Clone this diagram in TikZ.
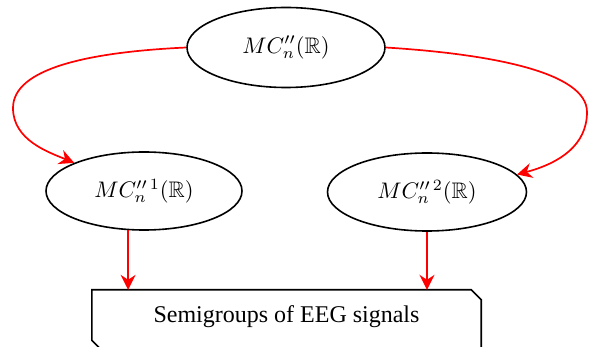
\documentclass[tikz,border=0pt]{standalone}
\usepackage{graphicx}
\usepackage{amssymb}
\usepackage{fontspec}
\setmainfont{Liberation Serif}
\usetikzlibrary{arrows.meta,shapes.geometric}
\newcommand{\bigmath}[1]{\scalebox{2.25}{$#1$}}
\tikzset{
  ell/.style={ellipse, draw=black, line width=1.6pt, inner sep=0pt},
  redarrow/.style={draw=red, line width=1.7pt,
    -{Stealth[length=15pt,width=15pt,inset=5pt]}},
  boxline/.style={draw=black, line width=1.6pt},
}
\begin{document}
\begin{tikzpicture}[x=1pt,y=-1pt]
\useasboundingbox (0,0) rectangle (589,347);
\clip (0,0) rectangle (589,347);
\node[ell, minimum width=198pt, minimum height=80pt] (top) at (286,47.5) {\bigmath{MC''_n(\mathbb{R})}};
\node[ell, minimum width=196pt, minimum height=78pt] (L) at (144,191) {\bigmath{MC''^{\,1}_n(\mathbb{R})}};
\node[ell, minimum width=199pt, minimum height=78pt] (R) at (427,192) {\bigmath{MC''^{\,2}_n(\mathbb{R})}};
\node[minimum width=389pt, minimum height=60pt, inner sep=0pt,
  text height=16pt, text depth=11pt, font=\fontsize{24}{28}\selectfont]
  (box) at (286.5,320) {Semigroups of EEG signals};
\draw[boxline] ([xshift=-10pt]box.north east) -- (box.north west)
  -- ([yshift=10pt]box.south west) -- ([xshift=10pt]box.south west)
  -- (box.south east) -- ([yshift=-10pt]box.north east) -- cycle;
\coordinate (lw) at (13,108);
\coordinate (re) at (587,112);
\draw[redarrow] (top.west) .. controls (90,52) and (13,68) .. (lw)
  .. controls (13,140) and (48,152) .. (L.158);
\draw[redarrow] (top.east) .. controls (490,54) and (587,72) .. (re)
  .. controls (587,145) and (560,163) .. (R.11);
\draw[redarrow] (L.-112.6) -- (L.-112.6 |- box.north);
\draw[redarrow] (R.south) -- (R.south |- box.north);
\end{tikzpicture}
\end{document}
